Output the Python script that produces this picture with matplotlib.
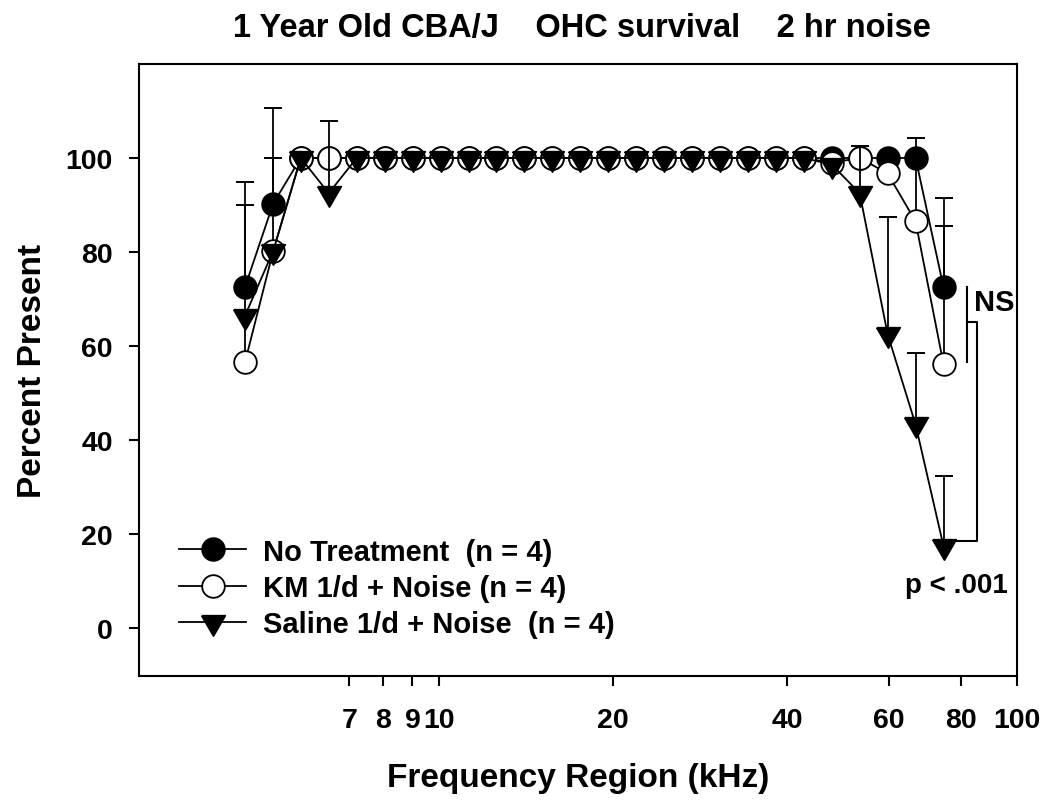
import matplotlib
matplotlib.use('Agg')
import matplotlib.pyplot as plt
import numpy as np

plt.rcParams['font.family'] = ['Liberation Sans', 'DejaVu Sans']
plt.rcParams['font.weight'] = 'bold'

# frequency region of each sample (kHz)
freq_khz = [4.62, 5.17, 5.77, 6.45, 7.21, 8.06, 9.01, 10.07, 11.26, 12.58,
            14.06, 15.72, 17.56, 19.63, 21.94, 24.52, 27.41, 30.63, 34.24,
            38.27, 42.78, 47.81, 53.44, 59.73, 66.76, 74.62]

# percent OHC present (mean) and upward SD
no_treatment = [72.5, 90.3] + [100] * 23 + [72.5]
no_treatment_sd = [22.4, 20.3] + [0] * 23 + [19.0]

km_noise = [56.5, 80.2, 100, 100] + [100] * 17 + [99.0, 100, 96.7, 86.5, 56.1]
km_noise_sd = [33.4, 19.8, 0, 0] + [0] * 17 + [0, 0, 0, 17.8, 29.5]

saline_noise = [66.4, 80.2, 100, 92.5] + [100] * 17 + [98.6, 92.5, 62.5, 43.3, 17.4]
saline_noise_sd = [0, 0, 0, 15.4] + [0] * 17 + [0, 10.0, 25.0, 15.2, 15.0]

labels = ['No Treatment  (n = 4)', 'KM 1/d + Noise (n = 4)', 'Saline 1/d + Noise  (n = 4)']
xtick_vals = [7, 8, 9, 10, 20, 40, 60, 80, 100]

tri_down = [(-1, 0.577), (1, 0.577), (0, -1.155), (-1, 0.577)]


def draw_series(ax, y, sd, marker, face, ms, label):
    x = np.array(freq_khz)
    y = np.array(y, dtype=float)
    sd = np.array(sd, dtype=float)
    m = sd > 0
    ax.vlines(x[m], y[m], y[m] + sd[m], colors='black', linewidth=1.3, zorder=3)
    ax.plot(x[m], y[m] + sd[m], linestyle='none', marker='_', markersize=13,
            markeredgewidth=1.4, color='black', zorder=3)
    line, = ax.plot(x, y, color='black', linewidth=1.3, marker=marker, markersize=ms,
                    markerfacecolor=face, markeredgecolor='black', markeredgewidth=1.3,
                    label=label, zorder=3)
    return line


fig = plt.figure(figsize=(10.5, 8.04), dpi=100)
ax = fig.add_axes([0.1324, 0.158, 0.8362, 0.7612])

h1 = draw_series(ax, no_treatment, no_treatment_sd, 'o', 'black', 16.3, labels[0])
h2 = draw_series(ax, km_noise, km_noise_sd, 'o', 'white', 16.3, labels[1])
h3 = draw_series(ax, saline_noise, saline_noise_sd, tri_down, 'black', 19.5, labels[2])

# significance brackets
ax.plot([82, 82], [56.5, 72.5], color='black', linewidth=1.5)
ax.plot([82, 85.3, 85.3, 77.6], [65.2, 65.2, 18.6, 18.6], color='black', linewidth=1.5)
ax.text(84.4, 69.3, 'NS', fontsize=21, fontweight='bold', ha='left', va='center')
ax.text(78.5, 9.2, 'p < .001', fontsize=20, fontweight='bold', ha='center', va='center')

ax.set_xscale('log')
ax.set_xlim(3.03, 100)
ax.set_ylim(-10.2, 120)
ax.set_xticks(xtick_vals)
ax.set_xticklabels([str(v) for v in xtick_vals])
ax.xaxis.set_minor_locator(matplotlib.ticker.NullLocator())
ax.set_yticks([0, 20, 40, 60, 80, 100])

ax.tick_params(axis='x', direction='out', length=7, width=1.5, pad=15, labelsize=20.5)
ax.tick_params(axis='y', direction='out', length=7, width=1.5, pad=12, labelsize=20.5)
for lab in ax.get_xticklabels() + ax.get_yticklabels():
    lab.set_fontweight('bold')
for s in ax.spines.values():
    s.set_linewidth(1.5)

ax.set_xlabel('Frequency Region (kHz)', fontsize=24, fontweight='bold', labelpad=21)
ax.set_ylabel('Percent Present', fontsize=24, fontweight='bold')
ax.yaxis.set_label_coords(-0.104, 0.5)

fig.text(0.554, 0.965, '1 Year Old CBA/J    OHC survival    2 hr noise',
         fontsize=23.5, fontweight='bold', ha='center', va='center')

ax.legend(handles=[h1, h2, h3], loc='center left', bbox_to_anchor=(0.046, 0.144),
          frameon=False, handlelength=2.3, handletextpad=0.55,
          borderpad=0, borderaxespad=0, labelspacing=0.28, prop={'weight': 'bold', 'size': 21})

fig.savefig('out.png', dpi=100)
